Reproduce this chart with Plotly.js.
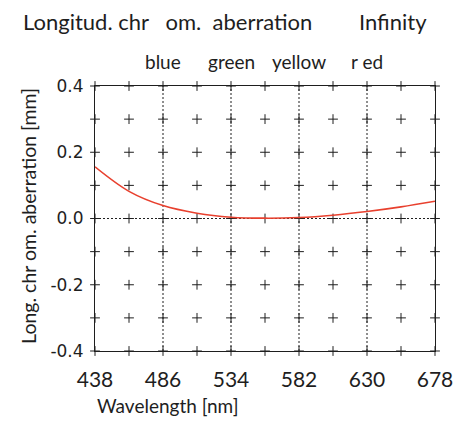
<!DOCTYPE html>
<html><head><meta charset="utf-8">
<script src="https://cdn.plot.ly/plotly-3.0.1.min.js"></script>
<style>html,body{margin:0;padding:0;background:#fff}</style>
</head><body><div id="chart" style="width:465px;height:421px"></div>
<script>
const wavelength = [438, 462, 486, 510, 534, 558, 582, 606, 630, 654, 678];
const aberration = [0.156, 0.082, 0.039, 0.016, 0.004, 0.001, 0.003, 0.010, 0.021, 0.035, 0.052];
const xTickVals = [438, 486, 534, 582, 630, 678];
const xTickText = ['438', '486', '534', '582', '630', '678'];
const yTickVals = [-0.4, -0.2, 0, 0.2, 0.4];
const yTickText = ['-0.4', '-0.2', '0.0', '0.2', '0.4'];
const gridX = [438, 462, 486, 510, 534, 558, 582, 606, 630, 654, 678];
const gridY = [-0.4, -0.3, -0.2, -0.1, 0, 0.1, 0.2, 0.3, 0.4];
const colorLineX = [486, 534, 582, 630];
const colorNames = ['blue', 'green', 'yellow', 'r ed'];
const zeroLineY = [0];
const titleLeft = 'Longitud. chr\u00a0\u00a0 om.\u00a0 aberration';
const titleRight = 'Infinity';
const xTitle = 'Wavelength [nm]';
const yTitle = 'Long. chr om. aberration [mm]';

const ink = '#1e1e1e';
const textFont = 'Lato, "Open Sans", sans-serif';

const crossX = [], crossY = [];
gridX.forEach(x => gridY.forEach(y => { crossX.push(x); crossY.push(y); }));

const shapes = [];
colorLineX.forEach(x => shapes.push({type: 'line', xref: 'x', yref: 'paper', x0: x, x1: x, y0: 0, y1: 1,
  line: {color: ink, width: 1, dash: '2px,2px'}, layer: 'below'}));
zeroLineY.forEach(y => shapes.push({type: 'line', xref: 'paper', yref: 'y', x0: 0, x1: 1, y0: y, y1: y,
  line: {color: ink, width: 1, dash: '2px,2px'}, layer: 'below'}));

const annotations = [
  {text: titleLeft, xref: 'paper', yref: 'paper', x: -0.2176, y: 1.245, xanchor: 'left', yanchor: 'middle',
   showarrow: false, font: {family: textFont, size: 22, color: ink}},
  {text: titleRight, xref: 'paper', yref: 'paper', x: 0.7706, y: 1.245, xanchor: 'left', yanchor: 'middle',
   showarrow: false, font: {family: textFont, size: 22, color: ink}},
  {text: yTitle, xref: 'paper', yref: 'paper', x: -0.194, y: 0.51, xanchor: 'center', yanchor: 'middle',
   textangle: -90, showarrow: false, font: {family: textFont, size: 19.5, color: ink}},
  {text: xTitle, xref: 'paper', yref: 'paper', x: 0, y: -0.204, xanchor: 'left', yanchor: 'middle',
   showarrow: false, font: {family: textFont, size: 19, color: ink}}
];
colorLineX.forEach((x, i) => annotations.push({text: colorNames[i], xref: 'x', yref: 'paper', x: x, y: 1.094,
  xanchor: 'center', yanchor: 'middle', showarrow: false, font: {family: textFont, size: 19, color: ink}}));

const traces = [
  {x: crossX, y: crossY, type: 'scatter', mode: 'markers', cliponaxis: false, hoverinfo: 'skip',
   marker: {symbol: 'cross-thin-open', size: 7, color: ink, line: {color: ink, width: 1}}},
  {x: wavelength, y: aberration, type: 'scatter', mode: 'lines',
   line: {color: '#e8402e', width: 1.6, shape: 'spline', smoothing: 1}}
];

const layout = {
  width: 465, height: 421,
  margin: {l: 95, r: 30, t: 86, b: 70},
  paper_bgcolor: '#fff', plot_bgcolor: '#fff',
  showlegend: false,
  xaxis: {range: [438, 678], tickvals: xTickVals, ticktext: xTickText, ticks: '', showgrid: false,
    zeroline: false, showline: true, mirror: true, linecolor: ink, linewidth: 1,
    tickfont: {family: textFont, size: 21, color: ink}, ticklabelstandoff: 10},
  yaxis: {range: [-0.4, 0.4], tickvals: yTickVals, ticktext: yTickText, ticks: '', showgrid: false,
    zeroline: false, showline: true, mirror: true, linecolor: ink, linewidth: 1,
    tickfont: {family: 'DejaVu Sans, sans-serif', size: 17, color: ink}, ticklabelstandoff: 7},
  shapes: shapes,
  annotations: annotations
};

Plotly.newPlot('chart', traces, layout, {displayModeBar: false, staticPlot: true});
</script>
</body></html>
